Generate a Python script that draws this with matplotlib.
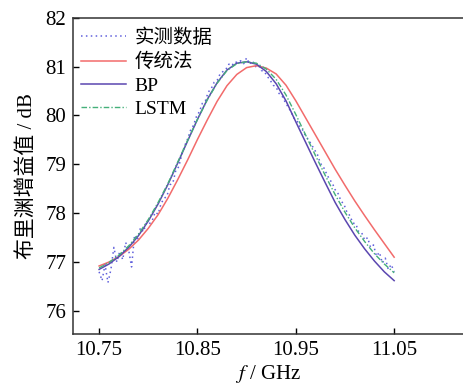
import matplotlib
matplotlib.use("Agg")
import matplotlib.pyplot as plt

plt.rcParams['font.family'] = ['Liberation Serif', 'Noto Sans CJK SC', 'DejaVu Sans']
plt.rcParams['mathtext.fontset'] = 'stix'

# frequency grid of the fitted curves (GHz)
freq_fit = [10.75, 10.76, 10.77, 10.78, 10.79, 10.80, 10.81, 10.82, 10.83, 10.84,
            10.85, 10.86, 10.87, 10.88, 10.89, 10.90, 10.91, 10.92, 10.93, 10.94,
            10.95, 10.96, 10.97, 10.98, 10.99, 11.00, 11.01, 11.02, 11.03, 11.04, 11.05]

gain_trad = [76.92, 77.00, 77.11, 77.26, 77.45, 77.69, 77.97, 78.31, 78.69, 79.09,
             79.51, 79.91, 80.29, 80.61, 80.84, 80.98, 81.02, 80.97, 80.85, 80.62,
             80.30, 79.95, 79.60, 79.25, 78.90, 78.57, 78.25, 77.95, 77.66, 77.38, 77.10]

gain_bp = [76.85, 76.96, 77.11, 77.30, 77.54, 77.84, 78.19, 78.59, 79.03, 79.48,
           79.92, 80.33, 80.67, 80.93, 81.07, 81.10, 81.05, 80.90, 80.65, 80.30,
           79.87, 79.45, 79.03, 78.62, 78.22, 77.87, 77.55, 77.27, 77.02, 76.80, 76.62]

gain_lstm = [76.88, 76.99, 77.14, 77.33, 77.57, 77.87, 78.22, 78.61, 79.05, 79.49,
             79.92, 80.32, 80.66, 80.92, 81.06, 81.10, 81.07, 80.95, 80.74, 80.42,
             80.02, 79.60, 79.18, 78.77, 78.38, 78.02, 77.70, 77.42, 77.17, 76.96, 76.78]

# measured data, 3 MHz step from 10.750 to 11.050
freq_meas = [10.750 + 0.003 * i for i in range(101)]
gain_meas = [76.80, 76.62, 76.95, 76.58, 76.85, 77.30, 77.00, 77.22, 77.05, 77.40,
             77.25, 76.90, 77.55, 77.45, 77.70, 77.62, 77.80, 77.78, 77.85, 78.02,
             77.98, 78.20, 78.30, 78.35, 78.58, 78.62, 78.88, 78.95, 79.20, 79.38,
             79.52, 79.70, 79.80, 79.98, 80.08, 80.25, 80.30, 80.48, 80.55, 80.68,
             80.72, 80.85, 80.90, 80.95, 81.05, 81.02, 81.10, 81.08, 81.12, 81.06,
             81.18, 81.05, 81.12, 81.00, 81.03, 80.92, 80.90, 80.80, 80.72, 80.62,
             80.58, 80.45, 80.40, 80.28, 80.18, 80.08, 79.95, 79.90, 79.78, 79.70,
             79.58, 79.50, 79.40, 79.30, 79.20, 79.02, 78.95, 78.82, 78.70, 78.62,
             78.48, 78.40, 78.25, 78.18, 78.02, 77.95, 77.80, 77.78, 77.62, 77.60,
             77.45, 77.50, 77.30, 77.35, 77.12, 77.20, 76.98, 77.08, 76.85, 76.95,
             76.80]

xticks = [10.75, 10.85, 10.95, 11.05]
yticks = [76, 77, 78, 79, 80, 81, 82]

fig = plt.figure(figsize=(4.63, 3.86), dpi=100)
ax = fig.add_axes([0.158, 0.135, 0.842, 0.819])

ax.plot(freq_meas, gain_meas, color='#6060dc', linestyle=(0, (1, 2.2)), lw=1.1, label='实测数据')
ax.plot(freq_fit, gain_trad, color='#f26b6b', lw=1.1, label='传统法')
ax.plot(freq_fit, gain_bp, color='#5b47b0', lw=1.1, label='BP')
ax.plot(freq_fit, gain_lstm, color='#45b07a', lw=1.0, linestyle=(0, (4, 1.5, 1, 1.5)), label='LSTM')

ax.set_xlim(10.7236, 11.12)
ax.set_ylim(75.53, 82)
ax.set_xticks(xticks)
ax.set_xticklabels([f"{t:.2f}" for t in xticks])
ax.set_yticks(yticks)
ax.tick_params(direction='in', length=4, width=1, labelsize=15, pad=5)
ax.spines['right'].set_visible(False)
for s in ['left', 'bottom', 'top']:
    ax.spines[s].set_linewidth(1.1)
    ax.spines[s].set_color('#333333')

ax.set_xlabel('$f$ / GHz', fontsize=15, labelpad=2)
ax.set_ylabel('布里渊增益值 / dB', fontsize=15, labelpad=6)

ax.legend(loc='upper left', frameon=False, fontsize=14, handlelength=2.3,
          handletextpad=0.45, labelspacing=0.3, borderaxespad=0.0,
          bbox_to_anchor=(0.0, 0.99))

fig.savefig('out.png', dpi=100)
